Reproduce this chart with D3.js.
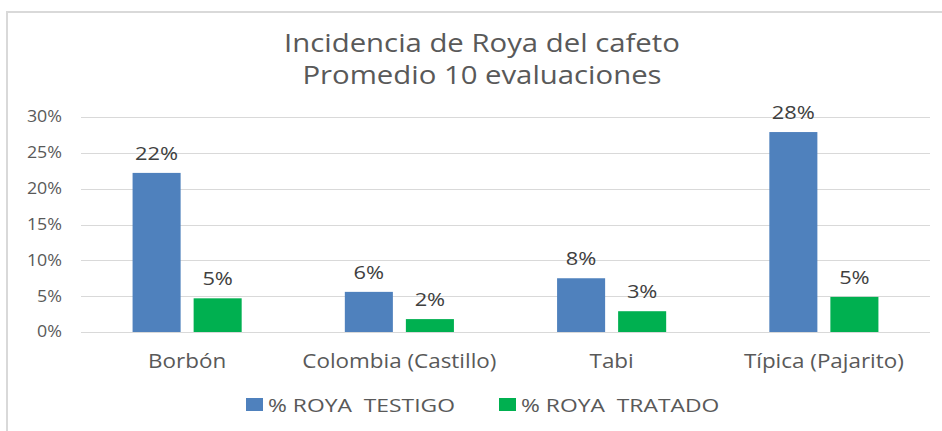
<!DOCTYPE html>
<html lang="es">
<head>
    <meta charset="UTF-8">
    <title>Incidencia de Roya del cafeto</title>
    <script src="https://cdnjs.cloudflare.com/ajax/libs/d3/7.8.5/d3.min.js"></script>
    <style>
        body { margin: 0; background: #fff; }
        text { font-family: "Open Sans", sans-serif; }
    </style>
</head>
<body>
    <div id="chart"></div>
    <script>
        // datos
        const categorias = ['Borbón', 'Colombia (Castillo)', 'Tabi', 'Típica (Pajarito)']
        const series = ['% ROYA  TESTIGO', '% ROYA  TRATADO']
        const testigo = [0.222, 0.056, 0.075, 0.279]
        const tratado = [0.047, 0.018, 0.029, 0.049]
        const ticks = [0, 0.05, 0.10, 0.15, 0.20, 0.25, 0.30]
        const etiquetas = ['22%', '5%', '6%', '2%', '8%', '3%', '28%', '5%']

        const colores = ['#4f81bd', '#00b050']
        const k = 1.15 // estirado horizontal del texto

        const width = 942, height = 431
        const margin = { top: 117, right: 12, bottom: 99, left: 81 }

        const svg = d3.select('#chart')
            .append('svg')
            .attr('width', width)
            .attr('height', height)

        // borde del grafico
        svg.append('rect')
            .attr('x', 7).attr('y', 12)
            .attr('width', 960).attr('height', 440)
            .attr('fill', 'none')
            .attr('stroke', '#d9d9d9')
            .attr('stroke-width', 2)

        const y = d3.scaleLinear()
            .domain([0, 0.30])
            .range([height - margin.bottom, margin.top])

        const x0 = d3.scaleBand()
            .domain(categorias)
            .range([margin.left, width - margin.right])
            .paddingInner(0.486)
            .paddingOuter(0.243)

        const x1 = d3.scaleBand()
            .domain(series)
            .range([0, x0.bandwidth()])
            .paddingInner(0.213)

        function estirar(sel, px, py, s) {
            sel.attr('transform', (d, i) => `translate(${px(d, i)},${py(d, i)}) scale(${s || k},1)`)
        }

        // titulo
        const titulo = svg.append('text')
            .attr('text-anchor', 'middle')
            .attr('fill', '#595959')
            .attr('font-size', 25.5)
            .attr('transform', `translate(482,0) scale(${k},1)`)
        titulo.append('tspan').attr('x', 0).attr('y', 52).text('Incidencia de Roya del cafeto')
        titulo.append('tspan').attr('x', 0).attr('y', 84).text('Promedio 10 evaluaciones')

        // lineas de cuadricula
        svg.append('g')
            .selectAll('line')
            .data(ticks)
            .join('line')
            .attr('x1', margin.left)
            .attr('x2', width - margin.right)
            .attr('y1', d => Math.round(y(d)) + 0.5)
            .attr('y2', d => Math.round(y(d)) + 0.5)
            .attr('stroke', '#d9d9d9')
            .attr('stroke-width', 1.2)

        // eje y
        const ejeY = svg.append('g')
            .attr('transform', `translate(${margin.left},0)`)
            .call(d3.axisLeft(y).tickValues(ticks).tickSize(0).tickPadding(19 / k).tickFormat(d3.format('.0%')))
        ejeY.select('.domain').remove()
        ejeY.selectAll('text')
            .attr('fill', '#595959')
            .attr('font-size', 15.5)
            .attr('font-family', '"Open Sans", sans-serif')
            .attr('transform', `scale(${k},1)`)

        // eje x
        const ejeX = svg.append('g')
            .attr('transform', `translate(0,${height - margin.bottom})`)
            .call(d3.axisBottom(x0).tickSize(0).tickPadding(22))
        ejeX.select('.domain').remove()
        ejeX.selectAll('text')
            .attr('fill', '#595959')
            .attr('font-size', 19.5)
            .attr('font-family', '"Open Sans", sans-serif')
            .attr('transform', `scale(${k},1)`)
            .attr('x', 0)

        // barras
        const filas = categorias.map((c, i) => [
            { cat: c, serie: series[0], valor: testigo[i], etiqueta: etiquetas[i * 2] },
            { cat: c, serie: series[1], valor: tratado[i], etiqueta: etiquetas[i * 2 + 1] }
        ])

        const grupos = svg.append('g')
            .selectAll('g')
            .data(filas)
            .join('g')
            .attr('transform', d => `translate(${x0(d[0].cat)},0)`)

        grupos.selectAll('rect')
            .data(d => d)
            .join('rect')
            .attr('x', d => x1(d.serie))
            .attr('y', d => y(d.valor))
            .attr('width', x1.bandwidth())
            .attr('height', d => y(0) - y(d.valor))
            .attr('fill', (d, i) => colores[i])

        // etiquetas de datos
        grupos.selectAll('text')
            .data(d => d)
            .join('text')
            .attr('text-anchor', 'middle')
            .attr('fill', '#404040')
            .attr('font-size', 19)
            .text(d => d.etiqueta)
            .call(estirar, d => x1(d.serie) + x1.bandwidth() / 2, d => y(d.valor) - 13)

        // leyenda
        const leyenda = svg.append('g')
            .selectAll('g')
            .data(series)
            .join('g')
            .attr('transform', (d, i) => `translate(${[246, 499][i]},0)`)

        leyenda.append('rect')
            .attr('x', 0).attr('y', 398)
            .attr('width', 17).attr('height', 13)
            .attr('fill', (d, i) => colores[i])

        leyenda.append('text')
            .attr('fill', '#595959')
            .attr('font-size', 18)
            .style('white-space', 'pre')
            .text(d => d)
            .call(estirar, () => 22, () => 412, 1.27)
    </script>
</body>
</html>
